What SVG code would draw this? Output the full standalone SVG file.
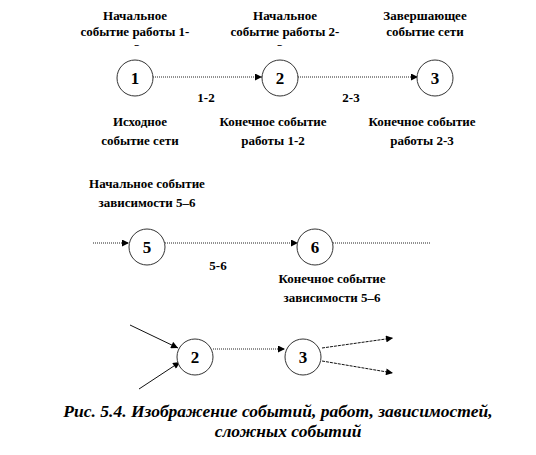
<svg xmlns="http://www.w3.org/2000/svg" width="536" height="455" viewBox="0 0 536 455">
<defs>
<style>
.ev{fill:#fff;stroke:#333;stroke-width:1}
.dot{stroke:#222;stroke-width:1;stroke-dasharray:1 1;fill:none}
.sol{stroke:#111;stroke-width:1;fill:none}
.dsh{stroke:#111;stroke-width:1;stroke-dasharray:3 1;fill:none}
</style>
<marker id="ah" viewBox="0 0 10 10" refX="10" refY="5" markerWidth="8" markerHeight="7" markerUnits="userSpaceOnUse" orient="auto">
<path d="M0,0 L10,5 L0,10 z" fill="#000"/>
</marker>
</defs>
<g id="connectors">
<line class="dot" x1="153" y1="77" x2="262" y2="77" marker-end="url(#ah)"/>
<line class="dot" x1="298" y1="77" x2="418" y2="77" marker-end="url(#ah)"/>
<line class="dot" x1="93" y1="243" x2="129" y2="243" marker-end="url(#ah)"/>
<line class="dot" x1="165" y1="243" x2="298" y2="243" marker-end="url(#ah)"/>
<line class="dot" x1="333" y1="243" x2="431" y2="243"/>
<line class="sol" x1="130" y1="325" x2="178" y2="348" marker-end="url(#ah)"/>
<line class="sol" x1="139" y1="389" x2="180" y2="362" marker-end="url(#ah)"/>
<line class="dot" x1="213" y1="349" x2="285" y2="349" marker-end="url(#ah)"/>
<line class="dsh" x1="322" y1="348" x2="393" y2="338" marker-end="url(#ah)"/>
<line class="dsh" x1="322" y1="361" x2="393" y2="373" marker-end="url(#ah)"/>
<text x="206" y="102" font-family="Liberation Serif" font-weight="bold" font-size="13" text-anchor="middle">1-2</text>
<text x="351" y="102" font-family="Liberation Serif" font-weight="bold" font-size="13" text-anchor="middle">2-3</text>
<text x="218" y="270" font-family="Liberation Serif" font-weight="bold" font-size="13" text-anchor="middle">5-6</text>
</g>
<g id="n1"><circle class="ev" cx="135" cy="78" r="18"/><text x="135" y="84" font-family="Liberation Serif" font-weight="bold" font-size="17" text-anchor="middle">1</text></g>
<g id="n2"><circle class="ev" cx="280" cy="78" r="18"/><text x="280" y="84" font-family="Liberation Serif" font-weight="bold" font-size="17" text-anchor="middle">2</text></g>
<g id="n3"><circle class="ev" cx="435" cy="78" r="18"/><text x="435" y="84" font-family="Liberation Serif" font-weight="bold" font-size="17" text-anchor="middle">3</text></g>
<g id="n5"><circle class="ev" cx="147" cy="247" r="18"/><text x="147" y="253" font-family="Liberation Serif" font-weight="bold" font-size="17" text-anchor="middle">5</text></g>
<g id="n6"><circle class="ev" cx="315" cy="247" r="18"/><text x="315" y="253" font-family="Liberation Serif" font-weight="bold" font-size="17" text-anchor="middle">6</text></g>
<g id="b2"><circle class="ev" cx="195" cy="357" r="18"/><text x="195" y="363" font-family="Liberation Serif" font-weight="bold" font-size="17" text-anchor="middle">2</text></g>
<g id="b3"><circle class="ev" cx="303" cy="357" r="18"/><text x="303" y="363" font-family="Liberation Serif" font-weight="bold" font-size="17" text-anchor="middle">3</text></g>
<g id="labels" font-family="Liberation Serif" font-weight="bold" font-size="13" text-anchor="middle">
<text x="137" y="53">2</text>
<text x="280" y="53">3</text>
<rect x="100" y="46" width="220" height="12" fill="#fff"/>
<text x="135" y="20">Начальное</text>
<text x="135" y="36">событие работы  1-</text>
<text x="285" y="20">Начальное</text>
<text x="285" y="36">событие работы  2-</text>
<text x="425" y="20">Завершающее</text>
<text x="425" y="36">событие сети</text>
<text x="140" y="126">Исходное</text>
<text x="140" y="145">событие сети</text>
<text x="273" y="126">Конечное событие</text>
<text x="273" y="145">работы 1-2</text>
<text x="422" y="126">Конечное событие</text>
<text x="422" y="145">работы 2-3</text>
<text x="147" y="188">Начальное  событие</text>
<text x="147" y="207">зависимости 5–6</text>
<text x="332" y="283">Конечное событие</text>
<text x="332" y="302">зависимости 5–6</text>
<text x="278" y="417" font-style="italic" font-size="17.5">Рис. 5.4. Изображение событий, работ, зависимостей,</text>
<text x="288" y="437" font-style="italic" font-size="17.5">сложных событий</text>
</g>
</svg>
